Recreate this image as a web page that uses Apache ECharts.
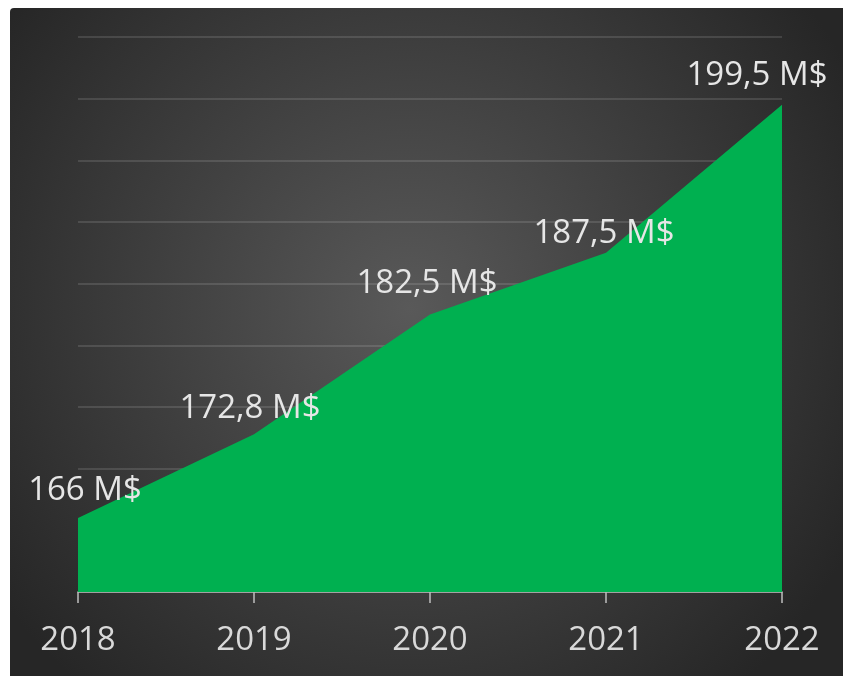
<!DOCTYPE html>
<html>
<head>
<meta charset="utf-8">
<script src="https://cdn.jsdelivr.net/npm/echarts@6/dist/echarts.min.js"></script>
<style>
  html, body { margin: 0; padding: 0; background: #fff; }
  #chart { position: absolute; left: 10px; top: 8px; width: 833px; height: 668px; border-top-left-radius: 4px; overflow: hidden; }
</style>
</head>
<body>
<div id="chart"></div>
<script>
// 年份与数值 (M$)
var years = ['2018', '2019', '2020', '2021', '2022'];
var revenue = [166, 172.8, 182.5, 187.5, 199.5];
var labelTexts = ['166 M$', '172,8 M$', '182,5 M$', '187,5 M$', '199,5 M$'];

var myChart = echarts.init(document.getElementById('chart'));

// 标签位置微调 (跟原图对齐)
var labelOffsets = [[7, 4], [-4, 5], [-3, 0], [-2, 12], [-25, 2]];

myChart.setOption({
    backgroundColor: new echarts.graphic.RadialGradient(0.48, 0.45, 0.75, [
        { offset: 0, color: '#595959' },
        { offset: 1, color: '#262626' }
    ]),
    grid: {
        left: 68,
        right: 61,
        top: 29,
        bottom: 84
    },
    xAxis: {
        type: 'category',
        data: years,
        boundaryGap: false,
        axisLine: {
            lineStyle: { color: '#bfbfbf', width: 1.5 }
        },
        axisTick: {
            show: true,
            length: 11,
            lineStyle: { color: '#bfbfbf', width: 1.5 }
        },
        axisLabel: {
            color: '#d9d9d9',
            fontFamily: 'Open Sans',
            fontSize: 33,
            margin: 32
        },
        splitLine: { show: false }
    },
    yAxis: {
        type: 'value',
        min: 160,
        max: 205,
        interval: 5,
        axisLine: { show: false },
        axisTick: { show: false },
        axisLabel: { show: false },
        splitLine: {
            lineStyle: { color: 'rgba(255,255,255,0.12)', width: 2 }
        }
    },
    series: [{
        type: 'line',
        data: revenue.map(function (v, i) {
            return {
                value: v,
                label: { offset: labelOffsets[i] }
            };
        }),
        symbol: 'circle',
        symbolSize: 1,
        showSymbol: true,
        itemStyle: { color: 'rgba(0,0,0,0)', borderWidth: 0 },
        lineStyle: { width: 0, color: '#00b050' },
        areaStyle: { color: '#00b050', opacity: 1 },
        label: {
            show: true,
            position: 'top',
            distance: 14,
            color: '#e6e6e6',
            fontFamily: 'Open Sans',
            fontSize: 33,
            formatter: function (p) {
                return labelTexts[p.dataIndex];
            }
        },
        animation: false
    }]
});
</script>
</body>
</html>
